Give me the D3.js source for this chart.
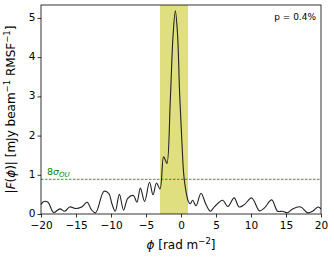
<!DOCTYPE html>
<html><head><meta charset="utf-8">
<script src="https://cdn.jsdelivr.net/npm/d3@7"></script>
<style>body{margin:0;background:#fff}text{font-family:"DejaVu Sans",sans-serif}</style>
</head><body><svg id="c" width="334" height="259"></svg>
<script>
const phi = [-20,-19.6,-19,-18.2,-17.3,-16.6,-15.9,-15,-14.2,-13.4,-12.8,-12.2,-11,-10.3,-9.9,-9.4,-8.8,-8.2,-7.6,-6.8,-6.3,-5.8,-5.2,-4.5,-4,-3.5,-3.0,-2.5,-2.24,-2.0,-1.53,-1.15,-0.81,-0.5,-0.2,0.14,0.37,0.6,1.05,1.33,1.67,2.14,2.86,3.57,4.2,4.76,5.95,6.67,7.6,8.3,9.05,10.1,11.2,11.9,12.95,13.8,14.5,15.2,15.95,17.1,18.1,18.8,19.6,20];
const amp = [0.24,0.32,0.3,0.04,0.13,0.07,0.18,0.14,0.18,0.3,0.11,0.03,0.58,0.52,0.28,0.07,0.5,0.1,0.4,0.47,0.3,0.66,0.32,0.81,0.49,0.79,0.64,1.46,1.38,1.29,2.9,4.5,5.18,4.6,3.1,1.8,1.05,0.7,0.32,0.26,0.35,0.21,0.53,0.24,0.07,0.18,0.35,0.19,0.41,0.18,0.24,0.41,0.08,0.15,0.36,0.07,0.07,0.03,0.13,0.18,0.03,0.07,0.18,0.13];
const xTicks = [-20,-15,-10,-5,0,5,10,15,20];
const yTicks = [0,1,2,3,4,5];
const shade = [-3, 1];
const threshold = 0.885;
const pLabel = "p = 0.4%";

const svg = d3.select("#c");
const L=41,R=321,T=5,B=214;
const x = d3.scaleLinear().domain([-20,20]).range([L,R]);
const y = d3.scaleLinear().domain([0,5.33]).range([B,T]);

svg.append("rect").attr("x",x(shade[0])).attr("y",T).attr("width",x(shade[1])-x(shade[0])).attr("height",B-T).attr("fill","#dfdf7f");

svg.append("line").attr("x1",L).attr("x2",R).attr("y1",y(threshold)).attr("y2",y(threshold))
  .attr("stroke","#008000").attr("stroke-width",0.8).attr("stroke-dasharray","2.5,1.5");
const lab = svg.append("text").attr("x",47).attr("y",y(threshold)-4).attr("fill","#008000").attr("font-size",9.5);
lab.append("tspan").text("8");
lab.append("tspan").attr("font-style","italic").text("σ");
lab.append("tspan").attr("font-style","italic").attr("font-size",7).attr("dy",2).text("OU");

const line = d3.line().x((d,i)=>x(phi[i])).y(d=>y(d)).curve(d3.curveCatmullRom.alpha(0.5));
svg.append("path").attr("d",line(amp)).attr("fill","none").attr("stroke","#222").attr("stroke-width",1.1);

const xa = svg.append("g").attr("transform",`translate(0,${B})`).call(d3.axisBottom(x).tickValues(xTicks).tickSize(3.5).tickPadding(4).tickFormat(d=>d<0?"\u2212"+(-d):d));
const ya = svg.append("g").attr("transform",`translate(${L},0)`).call(d3.axisLeft(y).tickValues(yTicks).tickSize(3.5).tickPadding(2).tickFormat(d3.format("d")));
[xa,ya].forEach(g=>{g.select(".domain").remove();g.selectAll("text").attr("font-size",10.5).attr("fill","#000").style("font-family","DejaVu Sans");g.selectAll("line").attr("stroke","#000").attr("stroke-width",0.8);});
ya.selectAll("text").attr("dy","0.25em");

svg.append("rect").attr("x",L).attr("y",T).attr("width",R-L).attr("height",B-T).attr("fill","none").attr("stroke","#000").attr("stroke-width",0.8);

svg.append("text").attr("x",R-5).attr("y",T+15).attr("text-anchor","end").attr("font-size",9).text(pLabel);

const xl = svg.append("text").attr("x",(L+R)/2).attr("y",249).attr("text-anchor","middle").attr("font-size",12);
xl.append("tspan").attr("font-style","italic").text("ϕ");
xl.append("tspan").text(" [rad m");
xl.append("tspan").attr("font-size",8.5).attr("dy",-5).text("\u22122");
xl.append("tspan").attr("dy",5).text("]");

const yl = svg.append("text").attr("transform",`translate(15,${(T+B)/2}) rotate(-90)`).attr("text-anchor","middle").attr("font-size",12);
yl.append("tspan").text("|");
yl.append("tspan").attr("font-style","italic").text("F");
yl.append("tspan").text("(");
yl.append("tspan").attr("font-style","italic").text("ϕ");
yl.append("tspan").text(")| [mJy beam");
yl.append("tspan").attr("font-size",8.5).attr("dy",-5).text("\u22121");
yl.append("tspan").attr("dy",5).text(" RMSF");
yl.append("tspan").attr("font-size",8.5).attr("dy",-5).text("\u22121");
yl.append("tspan").attr("dy",5).text("]");
</script></body></html>
